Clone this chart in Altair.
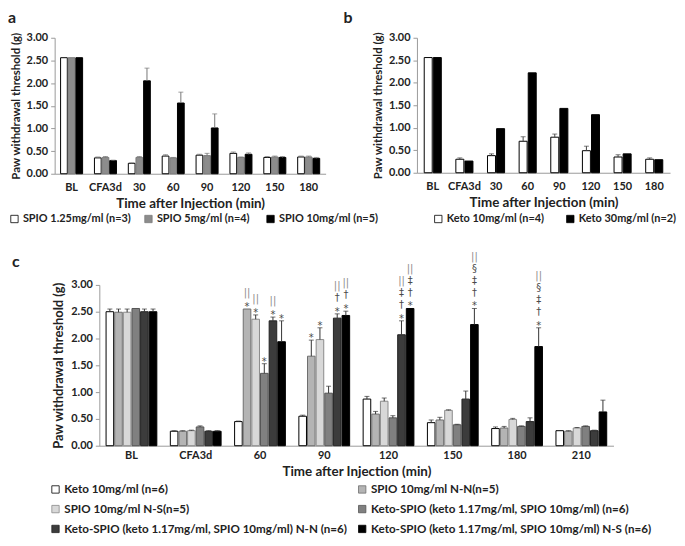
import altair as alt
import pandas as pd

FONT = "Lato"
TXT = "#222222"
AXC = "#9a9a9a"

# ---------------- Panel a ----------------
cats_ab = ["BL", "CFA3d", "30", "60", "90", "120", "150", "180"]
a_series = ["SPIO 1.25mg/ml (n=3)", "SPIO 5mg/ml  (n=4)", "SPIO 10mg/ml (n=5)"]
a_spio125 = [2.56, 0.35, 0.23, 0.39, 0.41, 0.45, 0.36, 0.37]
a_spio125_err = [0.0, 0.02, 0.01, 0.03, 0.02, 0.03, 0.02, 0.02]
a_spio5 = [2.56, 0.36, 0.36, 0.35, 0.40, 0.36, 0.37, 0.37]
a_spio5_err = [0.0, 0.02, 0.02, 0.01, 0.05, 0.01, 0.02, 0.02]
a_spio10 = [2.56, 0.29, 2.05, 1.56, 1.01, 0.43, 0.36, 0.34]
a_spio10_err = [0.0, 0.01, 0.28, 0.24, 0.31, 0.03, 0.02, 0.02]
a_fills = ["#ffffff", "#8c8c8c", "#000000"]
a_strokes = ["#000000", "#7a7a7a", "#000000"]

# ---------------- Panel b ----------------
b_series = ["Keto 10mg/ml (n=4)", "Keto 30mg/ml (n=2)"]
b_keto10 = [2.56, 0.30, 0.38, 0.70, 0.79, 0.49, 0.35, 0.30]
b_keto10_err = [0.0, 0.03, 0.04, 0.10, 0.07, 0.10, 0.05, 0.03]
b_keto30 = [2.56, 0.26, 0.98, 2.22, 1.43, 1.29, 0.42, 0.29]
b_keto30_err = [0.0, 0.0, 0.0, 0.0, 0.0, 0.0, 0.0, 0.0]
b_fills = ["#ffffff", "#000000"]
b_strokes = ["#000000", "#000000"]

# ---------------- Panel c ----------------
cats_c = ["BL", "CFA3d", "60", "90", "120", "150", "180", "210"]
c_series = [
    "Keto 10mg/ml (n=6)",
    "SPIO 10mg/ml N-N(n=5)",
    "SPIO 10mg/ml N-S(n=5)",
    "Keto-SPIO (keto 1.17mg/ml, SPIO 10mg/ml)  (n=6)",
    "Keto-SPIO (keto 1.17mg/ml, SPIO 10mg/ml) N-N (n=6)",
    "Keto-SPIO (keto 1.17mg/ml, SPIO 10mg/ml) N-S  (n=6)",
]
c_keto10 = [2.50, 0.27, 0.45, 0.55, 0.87, 0.43, 0.32, 0.28]
c_keto10_err = [0.05, 0.01, 0.01, 0.02, 0.05, 0.05, 0.03, 0.0]
c_spio_nn = [2.49, 0.27, 2.55, 1.67, 0.59, 0.48, 0.33, 0.27]
c_spio_nn_err = [0.06, 0.01, 0.0, 0.30, 0.05, 0.05, 0.03, 0.01]
c_spio_ns = [2.49, 0.28, 2.36, 1.98, 0.83, 0.66, 0.49, 0.33]
c_spio_ns_err = [0.06, 0.01, 0.08, 0.22, 0.06, 0.01, 0.02, 0.01]
c_ks = [2.56, 0.35, 1.35, 0.98, 0.52, 0.39, 0.36, 0.36]
c_ks_err = [0.0, 0.02, 0.18, 0.13, 0.04, 0.01, 0.01, 0.01]
c_ks_nn = [2.50, 0.27, 2.33, 2.38, 2.07, 0.87, 0.45, 0.28]
c_ks_nn_err = [0.05, 0.01, 0.07, 0.08, 0.26, 0.15, 0.07, 0.01]
c_ks_ns = [2.50, 0.27, 1.94, 2.43, 2.56, 2.26, 1.85, 0.63]
c_ks_ns_err = [0.05, 0.01, 0.39, 0.08, 0.0, 0.30, 0.35, 0.22]
c_fills = ["#ffffff", "#b4b4b4", "#d8d8d8", "#808080", "#3c3c3c", "#000000"]
c_strokes = ["#000000", "#6e6e6e", "#8a8a8a", "#555555", "#222222", "#000000"]

# significance marks (category, series index, symbols from bottom to top)
ann_cat = ["60", "60", "60", "60", "60", "90", "90", "90", "90", "120", "120", "150", "180"]
ann_series = [1, 2, 3, 4, 5, 1, 2, 4, 5, 4, 5, 5, 5]
ann_marks = [
    ["*", "||"], ["*", "||"], ["*"], ["*", "||"], ["*"],
    ["*"], ["*"], ["*", "†", "||"], ["*", "†", "||"],
    ["*", "†", "‡", "||"], ["*", "†", "‡", "||"],
    ["*", "†", "‡", "§", "||"], ["*", "†", "‡", "§", "||"],
]


def long_df(cats, series, values, errs):
    rows = []
    for s, vals, es in zip(series, values, errs):
        for c, v, e in zip(cats, vals, es):
            rows.append({"cat": c, "series": s, "value": v, "err": e, "top": round(v + e, 3)})
    return pd.DataFrame(rows)


df_a = long_df(cats_ab, a_series, [a_spio125, a_spio5, a_spio10], [a_spio125_err, a_spio5_err, a_spio10_err])
df_b = long_df(cats_ab, b_series, [b_keto10, b_keto30], [b_keto10_err, b_keto30_err])
df_c = long_df(cats_c, c_series,
               [c_keto10, c_spio_nn, c_spio_ns, c_ks, c_ks_nn, c_ks_ns],
               [c_keto10_err, c_spio_nn_err, c_spio_ns_err, c_ks_err, c_ks_nn_err, c_ks_ns_err])

ann_rows = []
for cat, si, marks in zip(ann_cat, ann_series, ann_marks):
    s = c_series[si]
    r = df_c[(df_c.cat == cat) & (df_c.series == s)].iloc[0]
    for k, m in enumerate(marks):
        ann_rows.append({"cat": cat, "series": s, "top": r["top"], "sym": m, "row": k})
df_ann = pd.DataFrame(ann_rows)


def y_axis(title_size):
    return alt.Axis(
        title="Paw withdrawal threshold (g)", values=[0, 0.5, 1, 1.5, 2, 2.5, 3], format=".2f",
        grid=False, domainColor=AXC, tickColor=AXC, tickSize=4, labelPadding=3,
        labelFont=FONT, labelFontSize=11, labelFontWeight="bold", labelColor=TXT,
        titleFont=FONT, titleFontSize=title_size, titleFontWeight="bold", titleColor=TXT, titlePadding=5,
    )


def x_axis(label_pad):
    return alt.Axis(
        title="Time after Injection (min)", labelAngle=0, ticks=False, domainColor=AXC,
        labelFont=FONT, labelFontSize=11, labelFontWeight="bold", labelColor=TXT, labelPadding=label_pad,
        titleFont=FONT, titleFontSize=13.5, titleFontWeight="bold", titleColor=TXT, titlePadding=4,
    )


def panel(df, cats, series, fills, strokes, w, h, pad_inner, letter, letter_dx, letter_off, legend,
          label_pad, ytitle_size, err_color, cap, ann=None):
    x = alt.X("cat:N", sort=cats,
              scale=alt.Scale(domain=cats, paddingInner=pad_inner, paddingOuter=pad_inner / 2),
              axis=x_axis(label_pad))
    xo = alt.XOffset("series:N", sort=series, scale=alt.Scale(domain=series, paddingInner=0.12))
    ysc = alt.Scale(domain=[0, 3], nice=False)
    ya = y_axis(ytitle_size)
    bars = alt.Chart(df).mark_bar(strokeWidth=1).encode(
        x=x, xOffset=xo,
        y=alt.Y("value:Q", scale=ysc, axis=ya),
        fill=alt.Fill("series:N", sort=series, scale=alt.Scale(domain=series, range=fills), legend=legend),
        stroke=alt.Stroke("series:N", sort=series, scale=alt.Scale(domain=series, range=strokes), legend=None),
    )
    edf = df[df.err > 0]
    rule = alt.Chart(edf).mark_rule(color=err_color, strokeWidth=1).encode(
        x=x, xOffset=xo, y=alt.Y("value:Q", scale=ysc, axis=ya), y2="top:Q")
    tick = alt.Chart(edf).mark_tick(color=err_color, thickness=1, size=cap).encode(
        x=x, xOffset=xo, y=alt.Y("top:Q", scale=ysc, axis=ya))
    layers = [bars, rule, tick]
    if ann is not None:
        for k in range(5):
            dy = 1 if k == 0 else -12 * k - 1
            txt = alt.Chart(ann).transform_filter(alt.datum.row == k).mark_text(
                baseline="alphabetic", dy=dy, fontSize=10, font="DejaVu Sans").encode(
                x=x, xOffset=xo, y=alt.Y("top:Q", scale=ysc, axis=ya), text="sym:N",
                color=alt.condition(alt.datum.sym == "||", alt.value("#8c8c8c"), alt.value("#4a4a4a")))
            layers.append(txt)
    return alt.layer(*layers).properties(
        width=w, height=h,
        title=alt.TitleParams(letter, anchor="start", frame="group", dx=letter_dx, fontSize=16,
                              fontWeight="bold", font=FONT, color=TXT, offset=letter_off),
    )


def legend(x, y, cols=None, colpad=20, rowpad=8, size=11):
    kw = dict(orient="none", legendX=x, legendY=y, direction="horizontal", title=None,
              symbolType="square", symbolSize=55, symbolStrokeColor="#000000", symbolStrokeWidth=0.8,
              labelFont=FONT, labelFontSize=size, labelFontWeight="bold", labelColor=TXT,
              labelOffset=3, columnPadding=colpad, rowPadding=rowpad, labelLimit=400)
    if cols is not None:
        kw["columns"] = cols
    return alt.Legend(**kw)


IND = dict(fill="independent", stroke="independent", xOffset="independent",
           x="independent", y="independent", color="independent")
LEG = dict(fill="independent", stroke="independent", color="independent")

pa = panel(df_a, cats_ab, a_series, a_fills, a_strokes, 273, 137, 0.35, "a", -47, 5.5,
           legend(-46, 177, colpad=12), 8, 11.5, "#777777", 5)
pb = panel(df_b, cats_ab, b_series, b_fills, b_strokes, 255, 136, 0.46, "b", -74, 5.5,
           legend(16, 177, colpad=20), 8, 11.5, "#444444", 5)
pc = panel(df_c, cats_c, c_series, c_fills, c_strokes, 518, 162, 0.21, "c", -88, -18,
           legend(-50, 200, cols=2, colpad=9, rowpad=7, size=11.7), 4, 13, "#333333", 5, ann=df_ann)

# invisible 1-px spacer that shifts panel c to the right of panel a's origin
spacer = alt.Chart(pd.DataFrame({"v": [0]})).mark_point(opacity=0).encode(
    x=alt.X("v:Q", axis=None), y=alt.Y("v:Q", axis=None)).properties(width=1, height=1)

top = alt.hconcat(pa, pb, spacing=92, bounds="flush").resolve_scale(**IND).resolve_legend(**LEG)
bottom = alt.hconcat(spacer, pc, spacing=44, bounds="flush").resolve_scale(**IND).resolve_legend(**LEG)
chart = alt.vconcat(top, bottom, spacing=27).resolve_scale(**IND).resolve_legend(**LEG)
chart = chart.properties(padding=0, background="white").configure_view(stroke=None)

chart.save("out.html", embed_options={"renderer": "svg", "actions": False})
